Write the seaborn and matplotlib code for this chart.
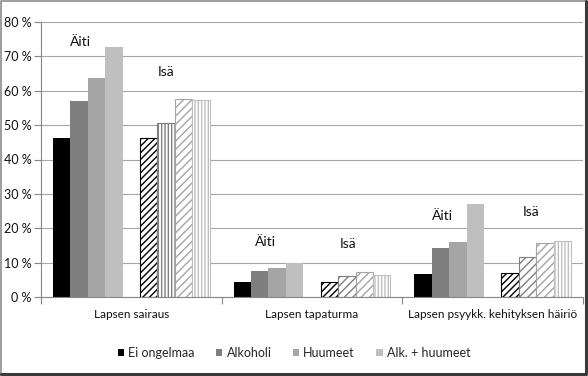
import matplotlib
matplotlib.use("Agg")
import matplotlib.pyplot as plt
from matplotlib.patches import Patch
from matplotlib.lines import Line2D
from matplotlib.ticker import FuncFormatter, FixedLocator
import seaborn as sns
import pandas as pd

# Data
categories = ["Lapsen sairaus", "Lapsen tapaturma", "Lapsen psyykk. kehityksen häiriö"]
series = ["Ei ongelmaa", "Alkoholi", "Huumeet", "Alk. + huumeet"]
aiti_values = [[46.2, 57.0, 63.8, 72.7],
               [4.4, 7.5, 8.3, 9.9],
               [6.7, 14.4, 15.9, 27.1]]
isa_values = [[46.4, 50.6, 57.5, 57.4],
              [4.5, 6.2, 7.4, 6.4],
              [7.0, 11.7, 15.7, 16.3]]
y_ticks = [0, 10, 20, 30, 40, 50, 60, 70, 80]

# styles
colors = ["#000000", "#7f7f7f", "#a5a5a5", "#bfbfbf"]
hatch_colors = ["#000000", "#7f7f7f", "#a5a5a5", "#bfbfbf"]
isa_hatches = [["/////", "|||||", "////", "|||||"],
               ["/////", "////", "////", "|||||"],
               ["/////", "////", "////", "|||||"]]
# group label positions (offset from category centre, y value)
group_labels = [("Äiti", -0.28, 74.3), ("Isä", 0.19, 65.4),
                ("Äiti", -0.26, 15.9), ("Isä", 0.20, 15.4),
                ("Äiti", -0.275, 23.6), ("Isä", 0.21, 24.8)]

sns.set_theme(style="white")
plt.rcParams['font.family'] = ['Lato', 'DejaVu Sans']
plt.rcParams['hatch.linewidth'] = 1.0

# build long table, 9 hue slots per category (middle one is empty gap)
hue_order = ["Äiti " + s for s in series] + ["gap"] + ["Isä " + s for s in series]
rows = []
for ci, cat in enumerate(categories):
    for si, s in enumerate(series):
        rows.append({"kategoria": cat, "sarja": "Äiti " + s, "osuus": aiti_values[ci][si]})
    rows.append({"kategoria": cat, "sarja": "gap", "osuus": 0.0})
    for si, s in enumerate(series):
        rows.append({"kategoria": cat, "sarja": "Isä " + s, "osuus": isa_values[ci][si]})
df = pd.DataFrame(rows)

palette = {"gap": "white"}
for si, s in enumerate(series):
    palette["Äiti " + s] = colors[si]
    palette["Isä " + s] = "white"

fig = plt.figure(figsize=(5.88, 3.76), dpi=100)
ax = fig.add_axes([41 / 588, 1 - 297 / 376, 542 / 588, 275 / 376])

bar_width = 0.867
sns.barplot(data=df, x="kategoria", y="osuus", hue="sarja", hue_order=hue_order,
            order=categories, palette=palette, width=bar_width, dodge=True,
            saturation=1, legend=False, linewidth=0, ax=ax)

# style the father bars with hatches
slot = bar_width / 9
for p in ax.patches:
    xc = p.get_x() + p.get_width() / 2
    ci = int(round(xc))
    k = int(round((xc - ci + bar_width / 2) / slot - 0.5))
    if k >= 5:
        si = k - 5
        p.set_facecolor("white")
        p.set_edgecolor(hatch_colors[si])
        p.set_hatch(isa_hatches[ci][si])
        p.set_linewidth(0.8)

for i, (txt, dx, y) in enumerate(group_labels):
    ax.text(i // 2 + dx, y, txt, ha="center", va="center", fontsize=10, color="#111111")

ax.set_xlim(-0.5, 2.5)
ax.set_ylim(0, 80)
ax.set_yticks(y_ticks)
ax.yaxis.set_major_formatter(FuncFormatter(lambda v, pos: "%d %%" % v))
ax.set_xticks(range(len(categories)))
ax.set_xticklabels(categories)
ax.xaxis.set_minor_locator(FixedLocator([-0.5, 0.5, 1.5, 2.5]))
ax.tick_params(axis="x", which="major", length=0, pad=9, labelsize=8.5, colors="#111111")
ax.tick_params(axis="x", which="minor", length=5, width=0.8, color="#868686", bottom=True)
ax.tick_params(axis="y", length=5, width=0.8, color="#868686", left=True, labelsize=9,
               labelcolor="#111111", pad=2)
ax.set_xlabel("")
ax.set_ylabel("")
ax.yaxis.grid(True, color="#a6a6a6", linewidth=0.8)
ax.set_axisbelow(True)
for side in ["top", "right"]:
    ax.spines[side].set_visible(False)
for side in ["left", "bottom"]:
    ax.spines[side].set_color("#868686")
    ax.spines[side].set_linewidth(0.8)

handles = [Patch(facecolor=c, edgecolor="none") for c in colors]
fig.legend(handles, series, loc="center", bbox_to_anchor=(0.5, 1 - 353 / 376), ncol=4,
           frameon=False, fontsize=9, handlelength=0.5, handleheight=0.5,
           handletextpad=0.35, columnspacing=1.7)

# chart frame
fig.add_artist(Line2D([0.001, 0.001, 0.997], [0.003, 0.998, 0.998], transform=fig.transFigure,
                      color="#8c8c8c", linewidth=1.2))
fig.add_artist(Line2D([0.997, 0.997, 0.001], [0.998, 0.004, 0.004], transform=fig.transFigure,
                      color="#3a3a3a", linewidth=2.2))

fig.savefig("out.png", dpi=100)
